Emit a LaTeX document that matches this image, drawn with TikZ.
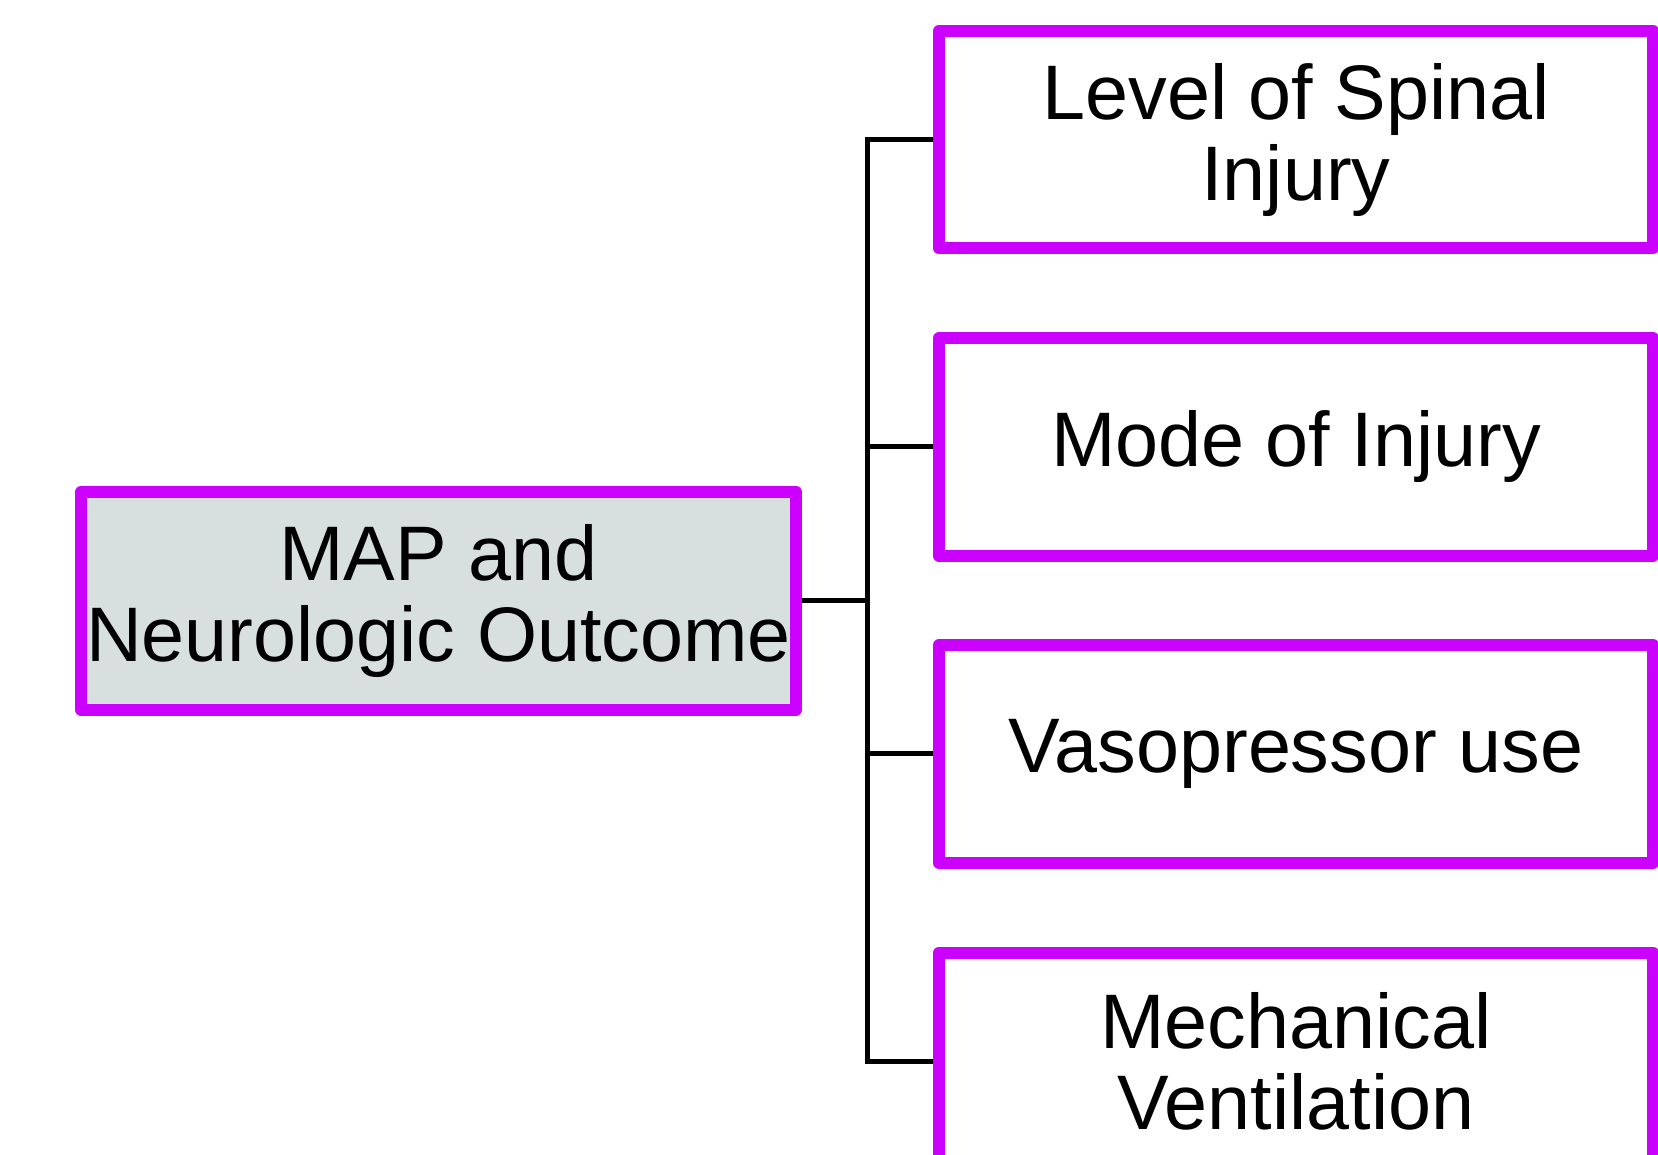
\documentclass[tikz,border=0pt]{standalone}
\usepackage{fontspec}
\setmainfont{Liberation Sans}
\usepackage{tikz}

\definecolor{boxline}{HTML}{CC00FF}
\definecolor{mainfill}{HTML}{D8E0DF}

\begin{document}
\begin{tikzpicture}
[factor/.style={rectangle,draw=boxline,line width=0.24cm,line join=round,fill=white,
	 minimum width=14.28cm,minimum height=4.35cm,inner sep=0pt,align=center,
	 font=\fontsize{44}{46}\selectfont},
	 outcome/.style={factor,fill=mainfill,minimum width=14.3cm},
	 branch/.style={line width=0.1cm,black}];
\useasboundingbox (0,0) rectangle (33.16,23.1);

\node[outcome] (outcome) at (8.77,11.084) {MAP and\\Neurologic Outcome};

\node[factor] (level) at (25.92,20.305) {Level of Spinal\\Injury};
\node[factor] (mode) at (25.92,14.16) {Mode of Injury};
\node[factor] (vaso) at (25.92,8.02) {Vasopressor use};
\node[factor] (vent) at (25.92,1.87) {Mechanical\\Ventilation};

\coordinate (trunk) at (17.34,20.305);

\draw[branch] (level.west) -- (trunk) -- (trunk |- vent.west) -- (vent.west);
\draw[branch] (mode.west) -- (trunk |- mode.west);
\draw[branch] (vaso.west) -- (trunk |- vaso.west);
\draw[branch] (outcome.east) -- (trunk |- outcome.east);

\end{tikzpicture}
\end{document}
